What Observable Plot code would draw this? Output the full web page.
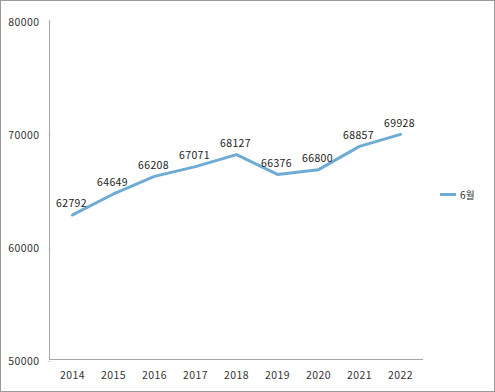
<!DOCTYPE html>
<html>
<head>
<meta charset="utf-8">
<script src="https://cdn.jsdelivr.net/npm/d3@7"></script>
<script src="https://cdn.jsdelivr.net/npm/@observablehq/plot@0.6"></script>
<style>
  body { margin: 0; background: #fff; }
  #wrap { position: relative; width: 495px; height: 392px; }
  #frame { position: absolute; left: 0; top: 0; width: 493px; height: 390px; border: 1px solid #9a9a9a; pointer-events: none; }
  #legend { position: absolute; left: 440px; top: 187px; font: 10px "Noto Sans CJK KR", sans-serif; color: #333; display: flex; align-items: center; }
  #legend span.sw { display: inline-block; width: 16px; height: 3px; background: #6eabd5; margin-right: 4px; }
</style>
</head>
<body>
<div id="wrap">
  <div id="chart"></div>
  <div id="legend"><span class="sw"></span><span>6월</span></div>
  <div id="frame"></div>
</div>
<script>
const years = ["2014","2015","2016","2017","2018","2019","2020","2021","2022"];
const values = [62792, 64649, 66208, 67071, 68127, 66376, 66800, 68857, 69928];
const yTicks = [50000, 60000, 70000, 80000];
const seriesName = "6월";

const data = years.map((y, i) => ({year: y, value: values[i], series: seriesName}));
const font = '"Noto Sans CJK KR", sans-serif';

const chart = Plot.plot({
  width: 495,
  height: 392,
  marginLeft: 49,
  marginRight: 72,
  marginTop: 20,
  marginBottom: 33,
  style: {fontFamily: font, fontSize: "10.5px", letterSpacing: "0.4px", color: "#333", background: "transparent"},
  x: {type: "point", domain: years, padding: 0.5, label: null},
  y: {domain: [50000, 80000], label: null},
  marks: [
    Plot.frame({anchor: "left", stroke: "#a6a6a6"}),
    Plot.ruleY([50000], {stroke: "#a6a6a6"}),
    Plot.axisY({ticks: yTicks, tickSize: 2, dx: 1.5, tickPadding: 9.5, stroke: "#c0c0c0", tickFormat: d => String(d), fill: "#333", dy: 2}),
    Plot.axisX({tickSize: 0, tickPadding: 10, fill: "#333", dy: 2}),
    Plot.line(data, {x: "year", y: "value", stroke: "#6eabd5", strokeWidth: 3}),
    Plot.text(data, {x: "year", y: "value", text: d => String(d.value), dy: -11, dx: -1, fill: "#222"})
  ]
});
document.getElementById("chart").appendChild(chart);
</script>
</body>
</html>
